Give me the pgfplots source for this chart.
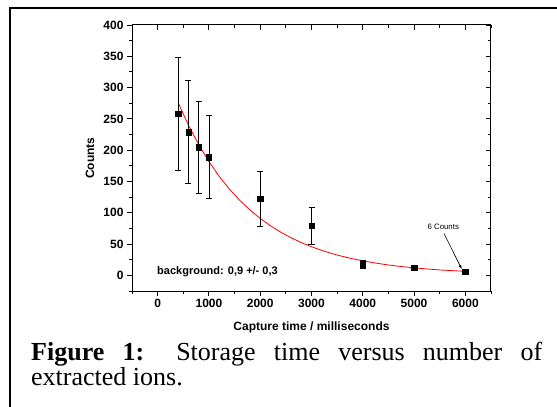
\documentclass[border=0pt]{standalone}
\usepackage{pgfplots}
\pgfplotsset{compat=1.18}
\usetikzlibrary{arrows.meta}
\usepackage{fontspec}
\setmainfont{Liberation Serif}
\newfontfamily\arialfont{Liberation Sans}
\begin{document}
\begin{tikzpicture}
\path[use as bounding box] (0bp,0bp) rectangle (557bp,-407bp);
\draw[line width=2bp] (10bp,-407bp) -- (10bp,-8bp) -- (557bp,-8bp);
\begin{axis}[
  at={(132bp,-291bp)}, anchor=south west, scale only axis,
  width=359bp, height=266bp,
  xmin=-500, xmax=6500, ymin=-25, ymax=400,
  xtick={0,1000,...,6000}, minor xtick={-500,500,...,6500},
  ytick={0,50,...,400}, minor ytick={-25,25,...,375},
  xtick pos=left, ytick pos=left, tick align=outside,
  major tick length=5bp, minor tick length=3bp,
  every tick/.style={black, line width=0.9bp},
  axis line style={line width=1bp},
  scaled ticks=false,
  /pgf/number format/assume math mode=true,
  /pgf/number format/1000 sep={},
  tick label style={font=\arialfont\bfseries\fontsize{12bp}{13bp}\selectfont},
  xlabel={Capture time / milliseconds}, ylabel={Counts},
  label style={font=\arialfont\bfseries\fontsize{12bp}{13bp}\selectfont},
  x label style={at={(axis description cs:0.5,-0.1353)}, anchor=center},
  y label style={at={(axis description cs:-0.117,0.5)}, anchor=center},
  clip=false,
]
\addplot[red, line width=0.8bp, no marks] coordinates {
(400,275.9) (600,240.1) (800,208.9) (1000,181.8) (1200,158.2) (1400,137.8)
(1600,119.9) (1800,104.4) (2000,90.9) (2200,79.2) (2400,69.0) (2600,60.1)
(2800,52.4) (3000,45.7) (3250,38.5) (3500,32.5) (3750,27.4) (4000,23.2)
(4250,19.6) (4500,16.6) (4750,14.1) (5000,12.0) (5250,10.2) (5500,8.7)
(5750,7.5) (6000,6.4)
};
\addplot[black, only marks, mark=square*, mark size=2.7bp,
  error bars/.cd, y dir=both, y explicit,
  error bar style={line width=0.8bp},
  error mark options={rotate=90, mark size=3bp, line width=0.8bp}]
coordinates {
(400,258) +- (0,91)
(600,229) +- (0,82)
(800,204.5) +- (0,74)
(1000,189) +- (0,66)
(2000,122) +- (0,44)
(3000,79) +- (0,30)
(4000,17.6) +- (0,6)
(5000,12) +- (0,4)
(6000,6) +- (0,2)
};
\node[font=\arialfont\bfseries\fontsize{11bp}{12bp}\selectfont] at (axis cs:1167,6) {background: 0,9 +/- 0,3};
\node[font=\arialfont\fontsize{7.8bp}{9bp}\selectfont] at (axis cs:5570,77.6) {6 Counts};
\draw[-{Latex[length=4bp,width=3bp]}, line width=0.6bp] (axis cs:5583,67) -- (axis cs:5929,10);
\end{axis}
\begin{axis}[
  at={(132bp,-291bp)}, anchor=south west, scale only axis,
  width=359bp, height=266bp,
  xmin=-500, xmax=6500, ymin=-25, ymax=400,
  xtick={0,1000,...,6000}, minor xtick={-500,500,...,6500},
  ytick={0,50,...,400}, minor ytick={-25,25,...,375},
  xtick pos=right, ytick pos=right, tick align=inside,
  major tick length=5bp, minor tick length=3bp,
  every tick/.style={black, line width=0.9bp},
  axis line style={line width=1bp},
  xticklabels={}, yticklabels={},
]
\addplot[draw=none] coordinates {(0,0)};
\end{axis}
\node[anchor=base west, inner sep=0pt, font=\fontsize{26bp}{26bp}\selectfont] at (31bp,-360bp) {\makebox[511bp][s]{\textbf{Figure 1:} Storage time versus number of}};
\node[anchor=base west, inner sep=0pt, font=\fontsize{26bp}{26bp}\selectfont] at (31bp,-385bp) {extracted ions.};
\end{tikzpicture}
\end{document}
